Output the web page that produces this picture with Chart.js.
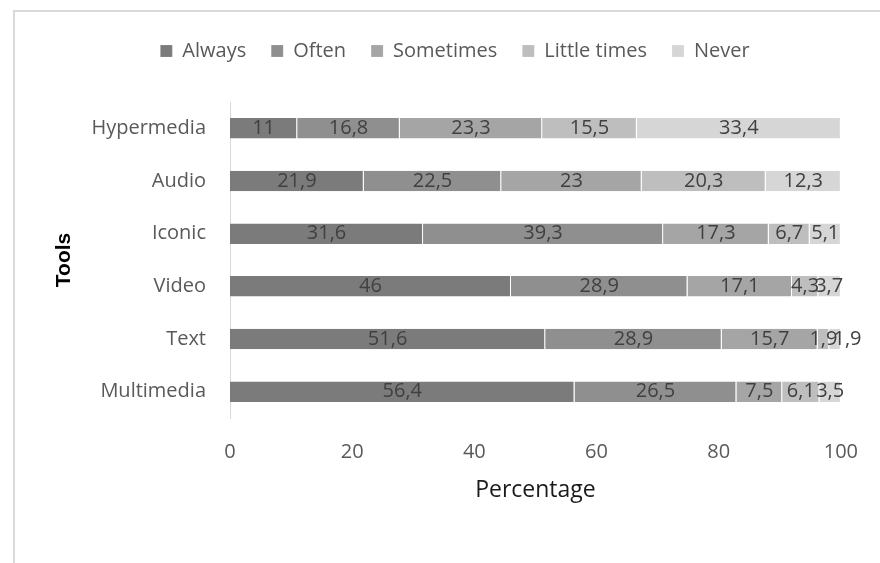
<!DOCTYPE html>
<html>
<head>
<meta charset="utf-8">
<script src="https://cdn.jsdelivr.net/npm/chart.js@4"></script>
<style>
  body { margin: 0; background: #fff; }
  /* moldura cinza clara em volta do gráfico */
  #moldura { position: absolute; left: 13px; top: 10px; right: 0; bottom: 0; border-left: 2px solid #d9d9d9; border-top: 2px solid #d9d9d9; }
  #grafico { position: absolute; left: 0; top: 0; }
</style>
</head>
<body>
<div id="moldura"></div>
<canvas id="grafico" width="880" height="563"></canvas>
<script>
// Dados do gráfico (percentuais por ferramenta)
const ferramentas = ['Hypermedia', 'Audio', 'Iconic', 'Video', 'Text', 'Multimedia'];
const nomesSeries = ['Always', 'Often', 'Sometimes', 'Little times', 'Never'];
const sempre = [11, 21.9, 31.6, 46, 51.6, 56.4];
const frequentemente = [16.8, 22.5, 39.3, 28.9, 28.9, 26.5];
const asVezes = [23.3, 23, 17.3, 17.1, 15.7, 7.5];
const poucasVezes = [15.5, 20.3, 6.7, 4.3, 1.9, 6.1];
const nunca = [33.4, 12.3, 5.1, 3.7, 1.9, 3.5];
const ticksPercentual = [0, 20, 40, 60, 80, 100];

const cores = ['#7b7b7b', '#8f8f8f', '#a5a5a5', '#bebebe', '#d6d6d6'];
const series = [sempre, frequentemente, asVezes, poucasVezes, nunca];

Chart.defaults.font.family = '"Open Sans"';

// Plugin para escrever o valor no meio de cada segmento (com vírgula decimal)
// Se um rótulo encostar no anterior da mesma barra, empurra para a direita
const rotulosValores = {
    id: 'rotulosValores',
    afterDatasetsDraw(chart) {
        const ctx = chart.ctx;
        ctx.save();
        ctx.font = '20px "Open Sans"';
        ctx.fillStyle = '#404040';
        ctx.textAlign = 'center';
        ctx.textBaseline = 'middle';
        const fimAnterior = {};
        chart.data.datasets.forEach((ds, i) => {
            chart.getDatasetMeta(i).data.forEach((barra, j) => {
                const texto = String(ds.data[j]).replace('.', ',');
                const largura = ctx.measureText(texto).width;
                let x = (barra.x + barra.base) / 2;
                const inicio = x - largura / 2;
                if (fimAnterior[j] !== undefined && inicio < fimAnterior[j] - 1) {
                    x += fimAnterior[j] - inicio - 4;
                }
                fimAnterior[j] = x + largura / 2;
                ctx.fillText(texto, x, barra.y);
            });
        });
        ctx.restore();
    }
};

// Plugin para fixar a altura da legenda e deslocá-la um pouco à direita
const ajusteLegenda = {
    id: 'ajusteLegenda',
    beforeLayout(chart) {
        const legenda = chart.legend;
        if (legenda && !legenda._ajustada) {
            const fitOriginal = legenda.fit.bind(legenda);
            legenda.fit = function () {
                fitOriginal();
                this.height = 86;
            };
            legenda._ajustada = true;
        }
    },
    afterLayout(chart) {
        chart.legend.left += 19;
        chart.legend.right += 19;
    }
};

const ctx = document.getElementById('grafico').getContext('2d');
new Chart(ctx, {
    type: 'bar',
    data: {
        labels: ferramentas,
        datasets: series.map((valores, i) => ({
            label: nomesSeries[i],
            data: valores,
            backgroundColor: cores[i],
            borderColor: 'rgba(255,255,255,0.6)',
            borderWidth: { top: 0, bottom: 0, left: 0, right: 1 },
            categoryPercentage: 1,
            barPercentage: 0.39
        }))
    },
    options: {
        indexAxis: 'y',
        responsive: false,
        animation: false,
        devicePixelRatio: 1,
        layout: {
            padding: { left: 30, right: 38, top: 16, bottom: 45 }
        },
        plugins: {
            legend: {
                position: 'top',
                labels: {
                    boxWidth: 12,
                    boxHeight: 12,
                    padding: 25,
                    color: '#595959',
                    font: { size: 20 }
                }
            },
            tooltip: { enabled: false }
        },
        scales: {
            x: {
                stacked: true,
                min: ticksPercentual[0],
                max: ticksPercentual[ticksPercentual.length - 1],
                afterBuildTicks(escala) {
                    escala.ticks = ticksPercentual.map(v => ({ value: v }));
                },
                afterFit(escala) { escala.height = 100; },
                grid: { display: false, drawTicks: false },
                border: { display: false },
                ticks: { color: '#595959', font: { size: 20 }, padding: 22 },
                title: {
                    display: true,
                    text: 'Percentage',
                    color: '#1a1a1a',
                    font: { size: 23 },
                    padding: { top: 0, bottom: 14 }
                }
            },
            y: {
                stacked: true,
                afterFit(escala) { escala.width = 200; },
                grid: { display: false, drawTicks: false },
                border: { display: true, color: '#d9d9d9', width: 1 },
                ticks: { color: '#595959', font: { size: 20 }, padding: 24 },
                title: {
                    display: true,
                    text: 'Tools',
                    color: '#000',
                    font: { family: '"Liberation Sans"', size: 21, weight: 'bold' },
                    padding: { top: 22, bottom: 0 }
                }
            }
        }
    },
    plugins: [rotulosValores, ajusteLegenda]
});
</script>
</body>
</html>
